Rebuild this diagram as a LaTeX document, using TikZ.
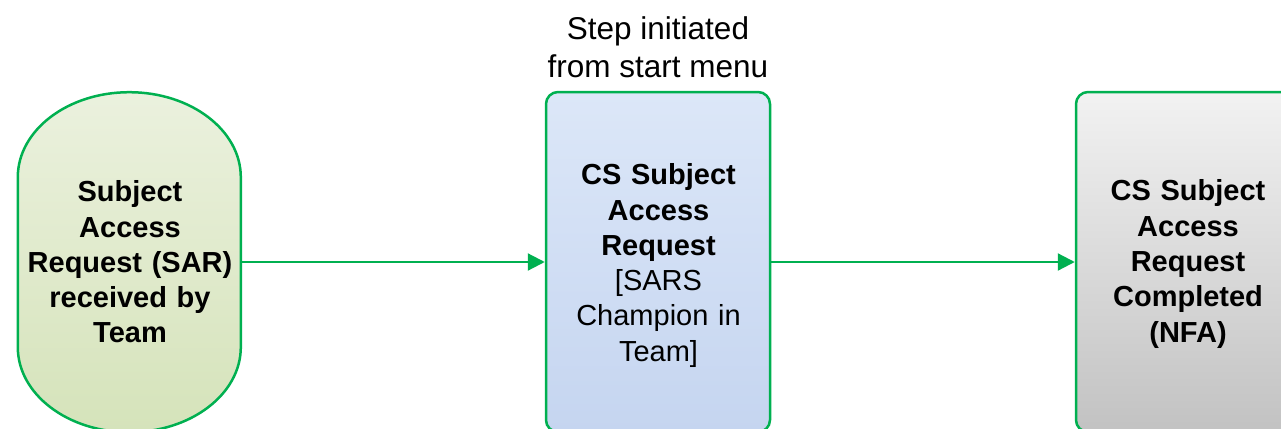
\documentclass[tikz,border=0pt]{standalone}
\usepackage{fontspec}
\setmainfont{Liberation Sans}
\usetikzlibrary{arrows.meta}
\definecolor{lnGreen}{HTML}{00B050}
\definecolor{gTop}{HTML}{EBF1DE}
\definecolor{gBot}{HTML}{D5E3BA}
\definecolor{bTop}{HTML}{DCE7F8}
\definecolor{bBot}{HTML}{C5D5F0}
\definecolor{kTop}{HTML}{F2F2F2}
\definecolor{kBot}{HTML}{C2C2C2}
\tikzset{
  boxtext/.style={align=center, font=\fontsize{29}{35.3}\selectfont, text width=240pt, inner sep=0pt},
  procbox/.style={draw=lnGreen, line width=2.5pt, rounded corners=12pt, minimum width=224pt, minimum height=340pt, inner sep=0pt},
  flow/.style={draw=lnGreen, line width=2.2pt, -{Triangle[length=17pt,width=17pt]}}
}
\begin{document}
\begin{tikzpicture}[x=1pt,y=1pt]
\useasboundingbox (0,0) rectangle (1281,-428);
\clip (0,0) rectangle (1281,-428);
% left terminator (stadium)
\node[minimum width=223pt, minimum height=340pt, inner sep=0pt] (sarshape) at (129.5,-262) {};
\path[draw=lnGreen, line width=2.5pt, top color=gTop, bottom color=gBot]
  (sarshape.south west) ++(0,85) -- ++(0,170)
  arc[start angle=180, end angle=0, x radius=111.5, y radius=85]
  -- ++(0,-170)
  arc[start angle=0, end angle=-180, x radius=111.5, y radius=85] -- cycle;
\node[boxtext, font=\fontsize{29}{35.3}\selectfont\bfseries] (sar) at (130,-262) {Subject\\ Access\\ Request (SAR)\\ received by\\ Team};
% middle
\node[procbox, top color=bTop, bottom color=bBot] (cs) at (658,-262) {};
\node[boxtext] (cstext) at (658.5,-265.5) {\textbf{CS Subject}\\ \textbf{Access}\\ \textbf{Request}\\ \relax[SARS\\ Champion in\\ Team]};
% right
\node[procbox, top color=kTop, bottom color=kBot] (done) at (1188,-262) {};
\node[boxtext, font=\fontsize{29}{35.3}\selectfont\bfseries] (donetext) at (1188,-264) {CS Subject\\ Access\\ Request\\ Completed\\ (NFA)};
% label
\node[align=center, font=\fontsize{31.5}{37.5}\selectfont, inner sep=0pt, anchor=south] (lbl) at (658,-78) {Step initiated\\ from start menu};
% connectors
\draw[flow] (sarshape.east) -- (cs.west);
\draw[flow] (cs.east) -- (done.west);
\end{tikzpicture}
\end{document}
